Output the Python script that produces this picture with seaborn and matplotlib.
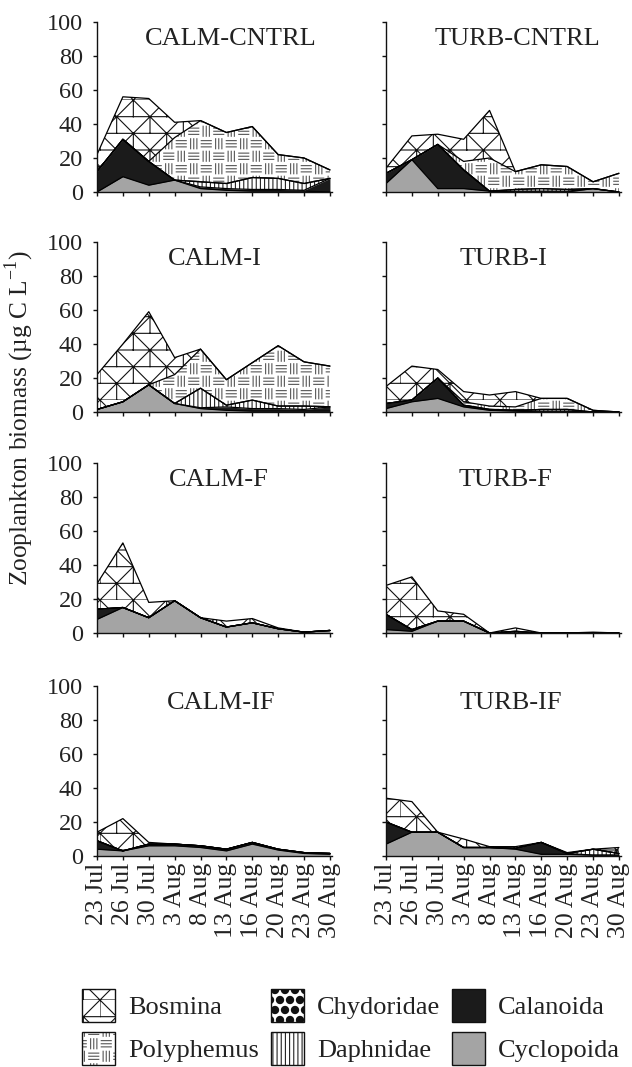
import glob
import warnings
import numpy as np
import pandas as pd
import matplotlib
matplotlib.use('Agg')
import matplotlib.pyplot as plt
import matplotlib.hatch as mhatch
from matplotlib import font_manager
from matplotlib.path import Path
from matplotlib.patches import Patch
from matplotlib.legend_handler import HandlerTuple
import seaborn as sns

warnings.filterwarnings('ignore')

# ─── data (µg C/L, per taxon, not cumulative) ────────────────────────────────
DATES = ['23 Jul', '26 Jul', '30 Jul', '3 Aug', '8 Aug', '13 Aug',
         '16 Aug', '20 Aug', '23 Aug', '30 Aug']
SPECIES = ['Cyclopoida', 'Calanoida', 'Daphnidae', 'Chydoridae',
           'Polyphemus', 'Bosmina']          # stacked bottom -> top
LEGEND_ORDER = ['Bosmina', 'Polyphemus', 'Chydoridae', 'Daphnidae',
                'Calanoida', 'Cyclopoida']
ZERO = [0] * 10

CALM_CNTRL = {
    'Cyclopoida': [0, 9, 4, 7, 2, 1, 0.5, 0.5, 0.5, 0],
    'Calanoida':  [12, 22, 14, 0, 1, 1, 1, 1, 0.5, 8],
    'Daphnidae':  [0, 0, 0, 0, 3, 3, 7, 6.5, 4, 0],
    'Polyphemus': [0, 0, 0, 25, 36, 30, 30, 14, 15, 5],
    'Bosmina':    [10, 25, 37, 9, 0, 0, 0, 0, 0, 0],
}
TURB_CNTRL = {
    'Cyclopoida': [5, 19, 2, 2, 0.5, 0, 0, 0, 2, 0],
    'Calanoida':  [6, 0, 26, 11, 0, 0.5, 0.5, 0.5, 0, 0],
    'Daphnidae':  [0, 0, 0, 0, 0, 1, 1.5, 1, 0, 0],
    'Polyphemus': [0, 0, 0, 5, 19.5, 10.5, 14, 13.5, 4, 11],
    'Bosmina':    [3, 14, 6, 13, 28, 0, 0, 0, 0, 0],
}
CALM_I = {
    'Cyclopoida': [1.5, 6, 16, 5, 2, 1, 0.5, 0.5, 0.5, 0.5],
    'Calanoida':  [0, 0, 0, 0, 0.5, 2, 1.5, 1.5, 1, 2.5],
    'Daphnidae':  [0, 0, 0, 0, 11.5, 1, 5, 1.5, 2, 0],
    'Polyphemus': [0, 0, 0, 17, 23, 15, 22, 35.5, 26, 24],
    'Bosmina':    [20.5, 34, 43, 10, 0, 0, 0, 0, 0, 0],
}
TURB_I = {
    'Cyclopoida': [2, 6, 8, 3, 1, 0.5, 0, 0, 0, 0],
    'Calanoida':  [3, 1, 12, 1, 0.5, 0.5, 0.5, 0.5, 0, 0],
    'Daphnidae':  [0, 0, 0, 0, 0, 0, 1, 1, 0, 0],
    'Polyphemus': [0, 0, 0, 2, 2, 2, 6.5, 6.5, 1, 0],
    'Bosmina':    [10, 20, 5, 6, 6.5, 9, 0, 0, 0, 0],
}
CALM_F = {
    'Cyclopoida': [8, 15, 9, 19, 9, 3.5, 6, 2.5, 0.5, 1.5],
    'Calanoida':  [6, 0, 0, 0, 0, 0, 0, 0, 0, 0],
    'Bosmina':    [15, 38, 9, 0, 0, 3.5, 2.5, 0.5, 0, 0],
}
TURB_F = {
    'Cyclopoida': [2, 1, 7, 7, 0, 0, 0, 0, 0, 0],
    'Calanoida':  [9, 1, 0, 0, 0, 0, 0, 0, 0, 0],
    'Daphnidae':  [0, 0, 0, 0, 0, 1, 0, 0, 0, 0],
    'Bosmina':    [17, 31, 6, 4, 0, 2, 0, 0, 0.5, 0],
}
CALM_IF = {
    'Cyclopoida': [4, 3, 6, 6, 5, 3, 7, 3.5, 1.5, 1],
    'Calanoida':  [5, 0, 1, 1, 1, 1, 1, 0.5, 0.5, 0.5],
    'Bosmina':    [5, 19, 1, 0, 0, 0, 0, 0, 0, 0],
}
TURB_IF = {
    'Cyclopoida': [7, 14, 14, 5, 5, 4, 1, 1, 0.5, 0.5],
    'Calanoida':  [13, 0, 0, 0, 0, 0.5, 7, 0.5, 0, 0],
    'Daphnidae':  [0, 0, 0, 0, 0, 0, 0, 0, 3.5, 1],
    'Bosmina':    [14, 18, 0, 5, 0.5, 1, 0, 0.5, 0, 3.5],
}
PANELS = [('CALM-CNTRL', CALM_CNTRL), ('TURB-CNTRL', TURB_CNTRL),
          ('CALM-I', CALM_I), ('TURB-I', TURB_I),
          ('CALM-F', CALM_F), ('TURB-F', TURB_F),
          ('CALM-IF', CALM_IF), ('TURB-IF', TURB_IF)]


# ─── custom hatches: triangle mesh (b), basket weave (w), big dots (d) ───────
class SegmentHatch(mhatch.HatchPatternBase):
    char, reps, segs = '', 1, []

    def __init__(self, hatch, density):
        self.num_vertices = (2 * len(self.segs) * self.reps ** 2
                             if self.char in hatch else 0)

    def set_vertices_and_codes(self, vertices, codes):
        n = self.reps
        pts = []
        for i in range(n):
            for j in range(n):
                for x0, y0, x1, y1 in self.segs:
                    pts += [((i + x0) / n, (j + y0) / n),
                            ((i + x1) / n, (j + y1) / n)]
        vertices[:] = pts
        codes[0::2] = Path.MOVETO
        codes[1::2] = Path.LINETO


class MeshHatch(SegmentHatch):
    char, reps = 'b', 3
    segs = [(0, 0, 1, 0), (0, 0.5, 1, 0.5),
            (0, 0, 0.5, 0.5), (0.5, 0.5, 1, 0),
            (0.5, 0.5, 0, 1), (0.5, 0.5, 1, 1),
            (0.5, 0, 0.5, 0.5), (0, 0.5, 0, 1)]


def _weave():
    segs = []
    for bx, by, kind in [(0, 0, 'h'), (1, 1, 'h'), (1, 0, 'v'), (0, 1, 'v')]:
        ox, oy = bx * 0.5, by * 0.5
        for t in (0.25, 0.5, 0.75):
            if kind == 'h':
                segs.append((ox + 0.05, oy + 0.5 * t, ox + 0.45, oy + 0.5 * t))
            else:
                segs.append((ox + 0.5 * t, oy + 0.05, ox + 0.5 * t, oy + 0.45))
    return segs


class WeaveHatch(SegmentHatch):
    char, reps = 'w', 4
    segs = _weave()


class BigDots(mhatch.Circles):
    size = 0.36
    filled = True

    def __init__(self, hatch, density):
        # Shapes needs an even row count
        self.num_rows = 10 if 'd' in hatch else 0
        super().__init__(hatch, density)


mhatch._hatch_types.extend([MeshHatch, WeaveHatch, BigDots])

FILL = {'Cyclopoida': '#a4a4a4', 'Calanoida': '#1b1b1b', 'Daphnidae': 'white',
        'Chydoridae': 'white', 'Polyphemus': 'white', 'Bosmina': 'white'}
HATCH = {'Cyclopoida': None, 'Calanoida': None, 'Daphnidae': '||||',
         'Chydoridae': 'd', 'Polyphemus': 'w', 'Bosmina': 'b'}
HATCH_COLOR = {'Cyclopoida': '#a4a4a4', 'Calanoida': '#1b1b1b',
               'Daphnidae': '#222222', 'Chydoridae': '#111111',
               'Polyphemus': '#555555', 'Bosmina': '#111111'}

# ─── fonts: make sure a Times-like serif is registered ──────────────────────
for pattern in ('/usr/share/fonts/**/LiberationSerif*.ttf',
                '/usr/local/share/fonts/**/LiberationSerif*.ttf'):
    for path in glob.glob(pattern, recursive=True):
        font_manager.fontManager.addfont(path)
AVAILABLE = {f.name for f in font_manager.fontManager.ttflist}
SERIF = next((f for f in ['Liberation Serif', 'Times New Roman',
                          'Nimbus Roman', 'TeX Gyre Termes']
              if f in AVAILABLE), 'DejaVu Serif')

# ─── style ────────────────────────────────────────────────────────────────────
sns.set_style('ticks')
plt.rcParams.update({
    'font.family': [SERIF, 'DejaVu Serif'],
    'mathtext.fontset': 'custom', 'mathtext.rm': SERIF,
    'font.size': 17.5, 'text.color': '#222222',
    'axes.linewidth': 1.0, 'axes.edgecolor': '#111111',
    'xtick.color': '#111111', 'ytick.color': '#111111',
    'xtick.labelcolor': '#222222', 'ytick.labelcolor': '#222222',
    'xtick.labelsize': 18.5, 'ytick.labelsize': 17.5,
    'xtick.major.size': 3, 'ytick.major.size': 3,
    'xtick.major.width': 1.0, 'ytick.major.width': 1.0,
    'xtick.major.pad': 2, 'ytick.major.pad': 7,
    'hatch.linewidth': 0.8,
})

W, H = 632, 1067
fig = plt.figure(figsize=(W / 100, H / 100), dpi=100)
LEFTS = [97 / W, 386 / W]
AX_W = 235 / W
AX_H = 170 / H
BOTTOMS = [1 - 192 / H, 1 - 412 / H, 1 - 633 / H, 1 - 856 / H]
TITLE_X = [0.57, 0.56, 0.50, 0.50, 0.52, 0.51, 0.53, 0.53]

x = np.arange(len(DATES))
for k, (name, data) in enumerate(PANELS):
    row, col = divmod(k, 2)
    ax = fig.add_axes([LEFTS[col], BOTTOMS[row], AX_W, AX_H])
    base = np.zeros(len(DATES))
    recs = []
    for sp in SPECIES:
        top = base + np.asarray(data.get(sp, ZERO), dtype=float)
        ax.fill_between(x, base, top, facecolor=FILL[sp],
                        edgecolor=HATCH_COLOR[sp], hatch=HATCH[sp],
                        linewidth=0)
        recs += [{'x': i, 'y': v, 'layer': sp} for i, v in enumerate(top)]
        base = top
    sns.lineplot(data=pd.DataFrame(recs), x='x', y='y', units='layer',
                 estimator=None, color='black', linewidth=0.9,
                 legend=False, ax=ax)
    ax.set_xlim(0, 9.08)
    ax.set_ylim(0, 100)
    ax.set_xticks(x)
    ax.set_yticks(range(0, 101, 20))
    ax.set_xlabel('')
    ax.set_ylabel('')
    if col == 1:
        ax.set_yticklabels([])
    if row < 3:
        ax.set_xticklabels([])
    else:
        ax.set_xticklabels(DATES, rotation=90)
    sns.despine(ax=ax)
    ax.text(TITLE_X[k], 0.9, name, transform=ax.transAxes,
            ha='center', va='center', fontsize=19)

fig.text(20 / W, 1 - 418 / H,
         r'Zooplankton biomass (µg C L$^{\mathregular{-1}}$)',
         rotation=90, ha='center', va='center', fontsize=18.3)

handles = []
for sp in LEGEND_ORDER:
    fill = Patch(facecolor=FILL[sp], edgecolor=HATCH_COLOR[sp],
                 hatch=HATCH[sp], linewidth=0)
    edge = Patch(facecolor='none', edgecolor='#111111', linewidth=1.0)
    handles.append((fill, edge))
fig.legend(handles, LEGEND_ORDER, ncol=3, loc='center',
           bbox_to_anchor=(351 / W, 1 - 1027 / H), frameon=False,
           fontsize=19, handlelength=1.25, handleheight=1.55,
           handletextpad=0.5, columnspacing=0.45, labelspacing=0.4,
           handler_map={tuple: HandlerTuple(ndivide=1, pad=0)})

fig.savefig('out.png', dpi=100)
